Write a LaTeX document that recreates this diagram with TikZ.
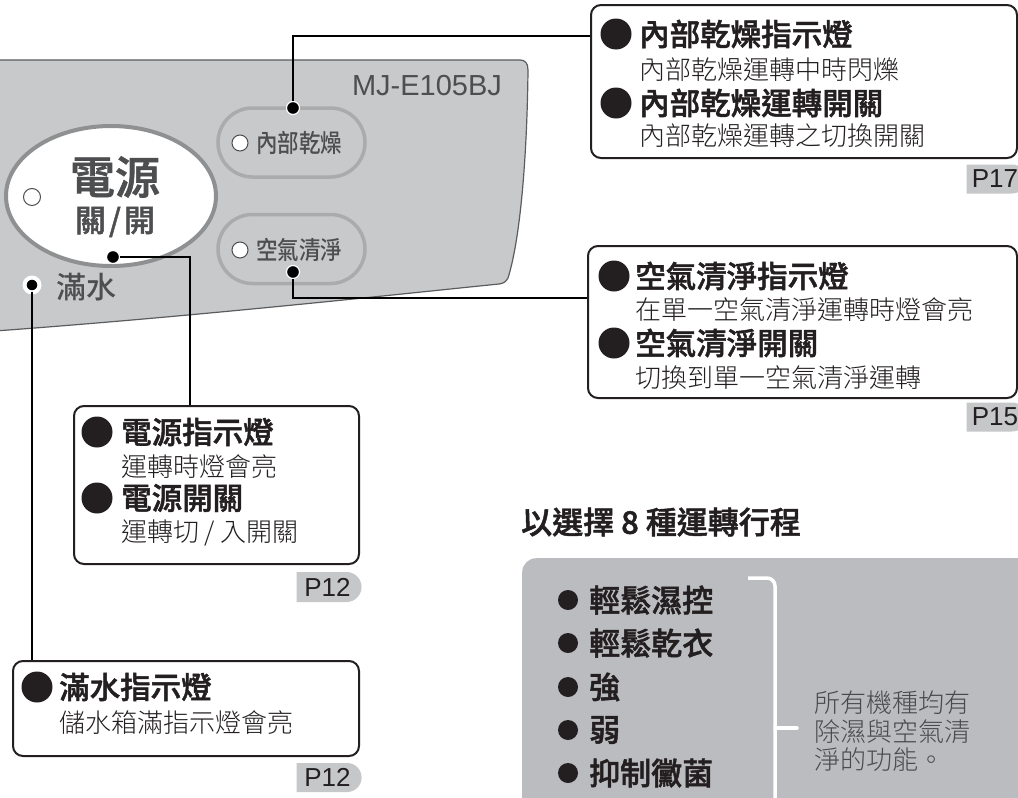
\documentclass[tikz,border=0pt]{standalone}
\usepackage{graphicx}
\usepackage{fontspec}
\setmainfont{Liberation Sans}
\newfontfamily\cjk{Noto Sans CJK TC}
\IfFontExistsTF{Noto Sans CJK TC Medium}{\newfontfamily\cjkm{Noto Sans CJK TC Medium}\newfontfamily\cjkh{Noto Sans CJK TC Medium}[FakeBold=1.5]}{\newfontfamily\cjkm{Noto Sans CJK TC}[FakeBold=1.2]\newfontfamily\cjkh{Noto Sans CJK TC}[FakeBold=2.5]}
\IfFontExistsTF{Noto Sans CJK TC Light}{\newfontfamily\cjkl{Noto Sans CJK TC Light}}{\newfontfamily\cjkl{Noto Sans CJK TC}}
\usetikzlibrary{shapes.misc,shapes.geometric}
\definecolor{panelfill}{HTML}{C8C9CB}
\definecolor{paneldraw}{HTML}{5B5C5E}
\definecolor{paneltext}{HTML}{4D4E50}
\definecolor{ringgrey}{HTML}{A9ABAD}
\definecolor{powerring}{HTML}{8E9092}
\definecolor{tagfill}{HTML}{C6C7C9}
\definecolor{modefill}{HTML}{BBBCBF}
\definecolor{inkblack}{HTML}{231F20}
\definecolor{notegrey}{HTML}{4A4A4C}
\newcommand{\fs}[1]{\fontsize{#1}{#1}\selectfont}
\begin{document}
\begin{tikzpicture}[x=1pt,y=-1pt,
  txt/.style={anchor=west, inner sep=0pt, text=inkblack},
  headtxt/.style={txt, font=\cjkh\fs{30.5}},
  desctxt/.style={txt, font=\cjkl\fs{26}},
  infobox/.style={draw=inkblack, line width=2pt, fill=white, rounded corners=10pt, anchor=north west, inner sep=0pt},
  bigbullet/.style={circle, fill=inkblack, inner sep=0pt, minimum size=31pt},
  smallbullet/.style={circle, fill=inkblack, inner sep=0pt, minimum size=20pt},
  cdot/.style={circle, fill=black, draw=white, line width=1.2pt, inner sep=0pt, minimum size=13pt},
  lamp/.style={circle, fill=white, draw=paneltext, line width=1pt, inner sep=0pt, minimum size=17pt},
  pill/.style={rounded rectangle, draw=ringgrey, line width=3.5pt, fill=panelfill, inner sep=0pt},
  conn/.style={draw=black, line width=2.4pt},
  tag/.style={rounded rectangle, rounded rectangle west arc=none, fill=tagfill, inner sep=0pt, font=\fs{26}, text=inkblack},
  paneltxt/.style={inner sep=0pt, text=paneltext}
]
\clip (0,0) rectangle (1018,798);
\fill[white] (0,0) rectangle (1018,798);

% ---------- panel ----------
\fill[panelfill] (-5,60) -- (520,60) .. controls (525,60) and (528,63) .. (528,70)
  .. controls (527,160) and (520,240) .. (508,278) .. controls (506,282) and (503,283.5) .. (499,284)
  .. controls (400,294) and (200,316) .. (-5,331) -- cycle;
\draw[paneldraw, line width=1.2pt] (-5,60) -- (520,60) .. controls (525,60) and (528,63) .. (528,70)
  .. controls (527,160) and (520,240) .. (508,278) .. controls (506,282) and (503,283.5) .. (499,284)
  .. controls (400,294) and (200,316) .. (-5,331);

\node[paneltxt, font=\fs{29}] (model) at (427,86) {MJ-E105BJ};

% power button
\node[ellipse, fill=white, draw=powerring, line width=4pt, minimum width=210pt, minimum height=140pt, inner sep=0pt] (power) at (111,196) {};
\node[lamp] (powerlamp) at (32,197) {};
\node[paneltxt, font=\cjkh\fs{45}] (powert1) at (115,177) {電源};
\node[paneltxt, font=\cjkh\fs{31}] (powert2) at (115,222) {關\hspace{3pt}/\hspace{3pt}開};

% dry button
\node[pill, minimum width=147pt, minimum height=69pt] (drybtn) at (291.5,142.5) {};
\node[lamp, minimum size=16pt] (drylamp) at (240,143) {};
\node[paneltxt, anchor=west, font=\cjkm\fs{25}] (dryt) at (256,143) {\scalebox{0.86}[1]{內部乾燥}};

% air button
\node[pill, minimum width=147pt, minimum height=69pt] (airbtn) at (291.5,249) {};
\node[lamp, minimum size=16pt] (airlamp) at (240,250) {};
\node[paneltxt, anchor=west, font=\cjkm\fs{25}] (airt) at (256,250) {\scalebox{0.86}[1]{空氣清淨}};

% water full
\node[lamp, draw=none, minimum size=19pt] (waterlamp) at (32,285) {};
\node[paneltxt, anchor=west, font=\cjkm\fs{30}] (watert) at (56,287) {滿水};

% ---------- connector dots ----------
\node[cdot] (d1) at (293,108) {};
\node[cdot] (d2) at (293,272) {};
\node[cdot] (d3) at (113,257) {};
\node[cdot, minimum size=12pt] (d4) at (32,285) {};

% ---------- info boxes ----------
\node[infobox, minimum width=426pt, minimum height=153pt] (b1) at (590,4) {};
\node[infobox, minimum width=429pt, minimum height=152pt] (b2) at (587,245) {};
\node[infobox, minimum width=285pt, minimum height=158pt] (b3) at (73,405) {};
\node[infobox, minimum width=346pt, minimum height=95pt] (b4) at (12,660) {};

% connectors
\coordinate (k1) at (293,36);
\coordinate (k2) at (293,298);
\coordinate (k3) at (190,257);
\draw[conn] (d1) -- (k1) -- (k1 -| b1.west);
\draw[conn] (d2) -- (k2) -- (k2 -| b2.west);
\draw[conn] (d3) -- (k3) -- (k3 |- b3.north);
\draw[conn] (d4) -- (d4 |- b4.north);

% box 1 texts
\node[bigbullet] (b1u1) at (616,34) {};
\node[headtxt] (b1h1) at (639,34) {內部乾燥指示燈};
\node[desctxt] (b1d1) at (639,70) {內部乾燥運轉中時閃爍};
\node[bigbullet] (b1u2) at (616,103) {};
\node[headtxt] (b1h2) at (639,103) {內部乾燥運轉開關};
\node[desctxt] (b1d2) at (639,136) {內部乾燥運轉之切換開關};
\node[tag, minimum width=60pt, minimum height=29pt] (t1) at (995,179) {P17};

% box 2 texts
\node[bigbullet] (b2u1) at (614,276) {};
\node[headtxt] (b2h1) at (635,276) {空氣清淨指示燈};
\node[desctxt] (b2d1) at (635,310) {在單一空氣清淨運轉時燈會亮};
\node[bigbullet] (b2u2) at (614,343) {};
\node[headtxt] (b2h2) at (635,343) {空氣清淨開關};
\node[desctxt] (b2d2) at (635,378) {切換到單一空氣清淨運轉};
\node[tag, minimum width=60pt, minimum height=29pt] (t2) at (995,417) {P15};

% box 3 texts
\node[bigbullet] (b3u1) at (97,432) {};
\node[headtxt] (b3h1) at (121,432) {電源指示燈};
\node[desctxt] (b3d1) at (121,467) {運轉時燈會亮};
\node[bigbullet] (b3u2) at (97,498) {};
\node[headtxt] (b3h2) at (121,498) {電源開關};
\node[desctxt] (b3d2) at (121,533) {運轉切 / 入開關};
\node[tag, minimum width=65pt, minimum height=30pt] (t3) at (327.5,587) {P12};

% box 4 texts
\node[bigbullet] (b4u1) at (37,687) {};
\node[headtxt] (b4h1) at (59,687) {滿水指示燈};
\node[desctxt] (b4d1) at (59,723) {儲水箱滿指示燈會亮};
\node[tag, minimum width=65pt, minimum height=29pt] (t4) at (327.5,777.5) {P12};

% ---------- modes ----------
\node[txt, font=\cjkh\fs{31}] (title) at (521,522) {以選擇 8 種運轉行程};
\node[fill=modefill, rounded corners=14pt, anchor=north west, minimum width=520pt, minimum height=280pt, inner sep=0pt] (modes) at (522,558) {};

\node[smallbullet] (m1u) at (568,600) {};
\node[txt, font=\cjkh\fs{31}] (m1) at (589,600) {輕鬆濕控};
\node[smallbullet] (m2u) at (568,643) {};
\node[txt, font=\cjkh\fs{31}] (m2) at (589,643) {輕鬆乾衣};
\node[smallbullet] (m3u) at (568,687) {};
\node[txt, font=\cjkh\fs{31}] (m3) at (589,687) {強};
\node[smallbullet] (m4u) at (568,730) {};
\node[txt, font=\cjkh\fs{31}] (m4) at (589,730) {弱};
\node[smallbullet] (m5u) at (568,773) {};
\node[txt, font=\cjkh\fs{31}] (m5) at (589,773) {抑制黴菌};

\coordinate (br1) at (748,578);
\coordinate (br2) at (775,578);
\coordinate (br3) at (775,820);
\coordinate (brm) at (775,728);
\coordinate (brt) at (797,728);
\draw[white, line width=3.5pt, rounded corners=8pt] (br1) -- (br2) -- (br3);
\draw[white, line width=3.5pt, line cap=round] (brm) -- (brt);

\node[txt, text=notegrey, font=\cjkl\fs{26}] (n1) at (814,703) {所有機種均有};
\node[txt, text=notegrey, font=\cjkl\fs{26}] (n2) at (814,732) {除濕與空氣清};
\node[txt, text=notegrey, font=\cjkl\fs{26}] (n3) at (814,760) {淨的功能。};
\end{tikzpicture}
\end{document}
